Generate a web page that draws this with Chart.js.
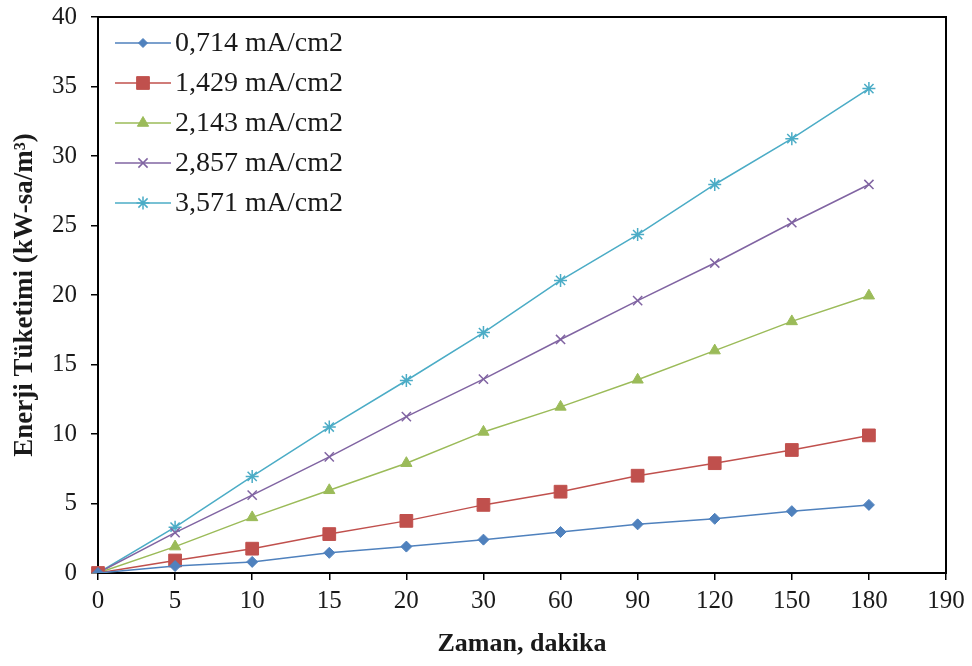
<!DOCTYPE html>
<html>
<head>
<meta charset="utf-8">
<script src="https://cdn.jsdelivr.net/npm/chart.js@4/dist/chart.umd.min.js"></script>
<style>
html,body{margin:0;padding:0;background:#fff;}
#wrap{width:972px;height:666px;position:relative;}
</style>
</head>
<body>
<div id="wrap"><canvas id="c" width="972" height="666"></canvas></div>
<script>
const categories = ['0','5','10','15','20','30','60','90','120','150','180','190'];
const seriesNames = ['0,714 mA/cm2','1,429 mA/cm2','2,143 mA/cm2','2,857 mA/cm2','3,571 mA/cm2'];
const s0714 = [0, 0.5, 0.8, 1.45, 1.9, 2.4, 2.95, 3.5, 3.9, 4.45, 4.9];
const s1429 = [0, 0.9, 1.75, 2.8, 3.75, 4.9, 5.85, 7.0, 7.9, 8.85, 9.9];
const s2143 = [0, 1.9, 4.0, 5.95, 7.9, 10.15, 11.95, 13.9, 16.0, 18.1, 19.95];
const s2857 = [0, 2.9, 5.6, 8.35, 11.25, 13.95, 16.8, 19.6, 22.3, 25.2, 27.95];
const s3571 = [0, 3.3, 6.95, 10.5, 13.85, 17.3, 21.05, 24.35, 27.95, 31.25, 34.85];
const yTicks = [0,5,10,15,20,25,30,35,40];
const xTitle = 'Zaman, dakika';
const yTitle = 'Enerji Tüketimi (kW-sa/m³)';

const colors = ['#4F81BD','#C0504D','#9BBB59','#8064A2','#4BACC6'];
const styles = ['rectRot','rect','triangle','crossRot','star'];
const radii = [5.5, 9, 6.5, 6.5, 6.5];
const values = [s0714, s1429, s2143, s2857, s3571];

const FONT = '"Liberation Serif", "Times New Roman", serif';

const datasets = values.map((v,i)=>({
  label: seriesNames[i],
  data: v,
  borderColor: colors[i],
  backgroundColor: colors[i],
  pointBackgroundColor: colors[i],
  pointBorderColor: colors[i],
  pointStyle: styles[i],
  pointRadius: radii[i],
  pointBorderWidth: (styles[i]==='crossRot'||styles[i]==='star') ? 1.5 : 1,
  borderWidth: 1.5,
  tension: 0,
  fill: false
}));

const framePlugin = {
  id: 'frame',
  beforeDatasetsDraw(chart){
    const {ctx, chartArea:a} = chart;
    ctx.save();
    ctx.strokeStyle = '#000';
    ctx.lineWidth = 2;
    ctx.strokeRect(a.left, a.top, a.right-a.left, a.bottom-a.top);
    ctx.restore();
  }
};

const legendPlugin = {
  id: 'customLegend',
  afterDraw(chart){
    const {ctx, chartArea:a} = chart;
    ctx.save();
    ctx.font = '28px ' + FONT;
    ctx.textBaseline = 'middle';
    ctx.textAlign = 'left';
    chart.data.datasets.forEach((ds,i)=>{
      const y = a.top + 26 + i*40;
      const x0 = a.left + 17, x1 = a.left + 73;
      ctx.strokeStyle = ds.borderColor;
      ctx.lineWidth = 1.5;
      ctx.beginPath(); ctx.moveTo(x0,y); ctx.lineTo(x1,y); ctx.stroke();
      ctx.fillStyle = ds.pointBackgroundColor;
      ctx.strokeStyle = ds.pointBorderColor;
      ctx.lineWidth = ds.pointBorderWidth;
      const r = ds.pointStyle === 'rectRot' ? 4.5 : ds.pointRadius;
      Chart.helpers.drawPoint(ctx, {pointStyle: ds.pointStyle, radius: r, rotation: 0, borderWidth: ds.pointBorderWidth}, (x0+x1)/2, y);
      ctx.fillStyle = '#1a1a1a';
      ctx.fillText(ds.label, x1 + 4, y + 1);
    });
    ctx.restore();
  }
};

new Chart(document.getElementById('c'), {
  type: 'line',
  data: { labels: categories, datasets },
  options: {
    responsive: false,
    animation: false,
    layout: { padding: { top: 17, right: 26, bottom: 0, left: 0 } },
    plugins: { legend: { display: false }, tooltip: { enabled: false } },
    scales: {
      x: {
        type: 'category',
        offset: false,
        border: { display: false },
        grid: { display: true, drawOnChartArea: false, drawTicks: true, tickLength: 7, color: '#000', lineWidth: 1.5 },
        ticks: { color: '#1a1a1a', font: { family: FONT, size: 25 }, padding: 6, maxRotation: 0, autoSkip: false },
        title: { display: true, text: xTitle, color: '#1a1a1a', font: { family: FONT, size: 26, weight: 'bold' }, padding: { top: 0, bottom: 6 } },
        afterFit(scale){ scale.height = 93; scale.paddingLeft = 0; scale.paddingRight = 0; }
      },
      y: {
        min: 0, max: 40,
        border: { display: false },
        grid: { display: true, drawOnChartArea: false, drawTicks: true, tickLength: 7, color: '#000', lineWidth: 1.5 },
        ticks: { color: '#1a1a1a', font: { family: FONT, size: 25 }, padding: 14,
          stepSize: 5,
          callback: (v) => yTicks.includes(v) ? String(v) : '' },
        title: { display: true, text: yTitle, color: '#1a1a1a', font: { family: FONT, size: 27, weight: 'bold' }, padding: { top: 9, bottom: 0 } },
        afterFit(scale){ scale.width = 98; scale.paddingTop = 0; scale.paddingBottom = 0; }
      }
    }
  },
  plugins: [framePlugin, legendPlugin]
});
</script>
</body>
</html>
